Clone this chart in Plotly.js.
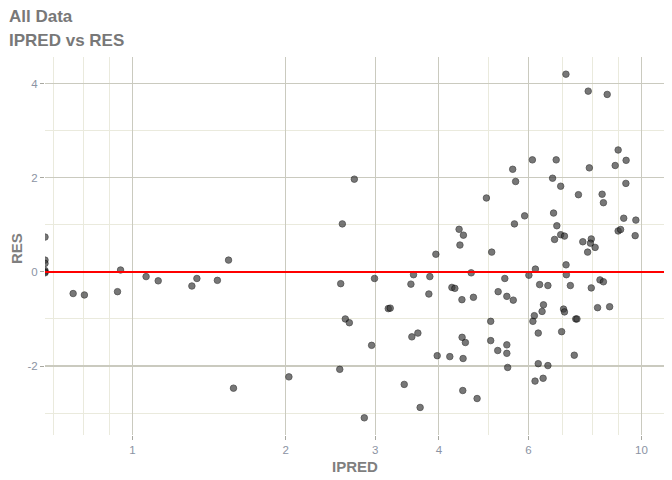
<!DOCTYPE html>
<html>
<head>
<meta charset="utf-8">
<script src="https://cdn.plot.ly/plotly-3.0.1.min.js"></script>
<style>
  html, body { margin: 0; padding: 0; background: #ffffff; }
  #chart { width: 672px; height: 480px; }
</style>
</head>
<body>
<div id="chart"></div>
<script>
// Individual predictions (IPRED) and residuals (RES); IPRED = 0 is drawn at the left edge (-Inf on log scale)
const IPRED = [
  0, 0, 0, 0, 0, 0,
  0.765, 0.805, 0.935, 0.948, 1.064, 1.124, 1.309, 1.339, 1.469, 1.545, 1.58, 2.03,
  2.729, 2.585, 4.383, 4.47, 4.40, 3.946, 4.96, 5.08, 4.63, 3.567, 3.84, 2.99, 2.566, 3.525,
  4.243, 4.30, 3.823, 4.44, 4.677, 5.23, 3.182, 3.21, 2.62, 2.668, 2.951, 3.54, 3.638, 4.443,
  4.51, 5.057, 5.057, 5.22, 3.97, 4.203, 4.463, 2.555, 3.42, 4.457, 4.755, 3.675, 2.855,
  7.107, 7.86, 8.565, 9.0, 9.33, 8.88, 6.106, 6.80, 5.586, 7.90, 5.66, 6.69, 6.94, 9.32,
  7.52, 8.37, 8.42, 5.896, 6.72, 5.63, 6.82, 9.23, 9.75, 9.0, 9.10, 9.72, 6.94, 7.06, 6.75,
  7.67, 7.97, 7.94, 8.11, 7.84, 7.11, 6.19, 6.01, 7.12, 5.39, 8.29, 8.42, 6.31, 6.55, 7.25,
  7.97, 5.44, 5.60,
  6.42, 6.38, 7.03, 7.06, 8.20, 8.66, 7.43, 7.47, 6.16, 6.12, 6.27, 6.97, 5.44, 5.44, 7.38,
  5.46, 6.27, 6.55, 6.18, 6.41
];
const RES = [
  0.74, 0.25, 0.18, 0.03, 0.00, -0.02,
  -0.46, -0.49, -0.42, 0.04, -0.10, -0.19, -0.30, -0.14, -0.18, 0.25, -2.47, -2.23,
  1.97, 1.02, 0.905, 0.78, 0.57, 0.375, 1.57, 0.42, -0.02, -0.06, -0.10, -0.14, -0.25, -0.26,
  -0.33, -0.35, -0.47, -0.59, -0.54, -0.42, -0.78, -0.77, -1.00, -1.08, -1.56, -1.38, -1.30, -1.39,
  -1.50, -1.05, -1.46, -1.67, -1.78, -1.80, -1.84, -2.07, -2.39, -2.52, -2.69, -2.88, -3.10,
  4.20, 3.84, 3.77, 2.59, 2.37, 2.26, 2.38, 2.38, 2.18, 2.21, 1.92, 1.99, 1.82, 1.88,
  1.64, 1.65, 1.47, 1.19, 1.25, 1.02, 0.98, 1.14, 1.10, 0.87, 0.90, 0.77, 0.79, 0.76, 0.69,
  0.64, 0.70, 0.61, 0.52, 0.42, 0.15, 0.06, -0.07, -0.06, -0.14, -0.17, -0.21, -0.27, -0.29, -0.29,
  -0.34, -0.52, -0.60,
  -0.70, -0.84, -0.79, -0.85, -0.76, -0.74, -1.00, -1.00, -0.93, -1.05, -1.30, -1.27, -1.55, -1.73, -1.77,
  -2.03, -1.95, -1.99, -2.32, -2.26
];
const X_TICKS = [1, 2, 3, 4, 6, 10];
const X_TICK_LABELS = ['1', '2', '3', '4', '6', '10'];
const X_MINOR = [0.7, 0.8, 0.9, 5, 7, 8, 9];
const Y_TICKS = [-2, 0, 2, 4];
const Y_TICK_LABELS = ['-2', '0', '2', '4'];
const Y_MINOR = [-3, -1, 1, 3];

const X_RANGE_LOG = [-0.1716, 1.0443];
const X_EDGE = Math.pow(10, X_RANGE_LOG[0]);
const xPlot = IPRED.map(v => (v > 0 ? v : X_EDGE));

const FONT = 'Liberation Sans, Arial, Helvetica, sans-serif';
const MAJOR_GRID = '#cacabf';
const MINOR_GRID = '#eaeadd';
const TICK_FONT = { family: FONT, size: 11.5, color: '#8b93a3' };

const trace = {
  type: 'scatter',
  mode: 'markers',
  x: xPlot,
  y: RES,
  cliponaxis: true,
  hoverinfo: 'x+y',
  marker: {
    size: 6.5,
    color: '#383838',
    opacity: 0.68,
    line: { color: '#000000', width: 0.8 }
  },
  showlegend: false
};

const layout = {
  width: 672,
  height: 480,
  margin: { l: 45, r: 8, t: 57, b: 45, pad: 0 },
  paper_bgcolor: '#ffffff',
  plot_bgcolor: '#ffffff',
  font: { family: FONT },
  xaxis: {
    type: 'log',
    range: X_RANGE_LOG,
    tickmode: 'array',
    tickvals: X_TICKS,
    ticktext: X_TICK_LABELS,
    ticks: 'outside',
    ticklen: 4,
    tickwidth: 1,
    tickcolor: '#a8a8a0',
    tickfont: TICK_FONT,
    showgrid: true,
    gridcolor: MAJOR_GRID,
    gridwidth: 1.1,
    zeroline: false,
    showline: false,
    minor: { tickmode: 'array', tickvals: X_MINOR, showgrid: true, gridcolor: MINOR_GRID, gridwidth: 1, ticks: '' },
    automargin: false
  },
  yaxis: {
    range: [-3.465, 4.565],
    tickmode: 'array',
    tickvals: Y_TICKS,
    ticktext: Y_TICK_LABELS,
    ticks: 'outside',
    ticklen: 4,
    tickwidth: 1,
    tickcolor: '#a8a8a0',
    tickfont: TICK_FONT,
    showgrid: true,
    gridcolor: MAJOR_GRID,
    gridwidth: 1.1,
    zeroline: false,
    showline: false,
    minor: { tickmode: 'array', tickvals: Y_MINOR, showgrid: true, gridcolor: MINOR_GRID, gridwidth: 1, ticks: '' },
    automargin: false
  },
  shapes: [{
    type: 'line', xref: 'paper', yref: 'y', x0: 0, x1: 1, y0: 0, y1: 0,
    line: { color: '#ff0000', width: 2 }, layer: 'above'
  }],
  annotations: [
    { text: '<b>All Data</b>', xref: 'paper', yref: 'paper', x: 0, y: 1, xanchor: 'left', yanchor: 'middle',
      xshift: -38, yshift: 41, showarrow: false, font: { family: FONT, size: 17, color: '#787878' } },
    { text: '<b>IPRED vs RES</b>', xref: 'paper', yref: 'paper', x: 0, y: 1, xanchor: 'left', yanchor: 'middle',
      xshift: -38, yshift: 17, showarrow: false, font: { family: FONT, size: 17, color: '#787878' } },
    { text: '<b>IPRED</b>', xref: 'paper', yref: 'paper', x: 0.5, y: 0, xanchor: 'center', yanchor: 'middle',
      yshift: -31, showarrow: false, font: { family: FONT, size: 15, color: '#7f7f7f' } },
    { text: '<b>RES</b>', xref: 'paper', yref: 'paper', x: 0, y: 0.5, xanchor: 'center', yanchor: 'middle',
      xshift: -29, yshift: -3, textangle: -90, showarrow: false, font: { family: FONT, size: 15, color: '#7f7f7f' } }
  ]
};

Plotly.newPlot('chart', [trace], layout, { displayModeBar: false, staticPlot: true });
</script>
</body>
</html>
